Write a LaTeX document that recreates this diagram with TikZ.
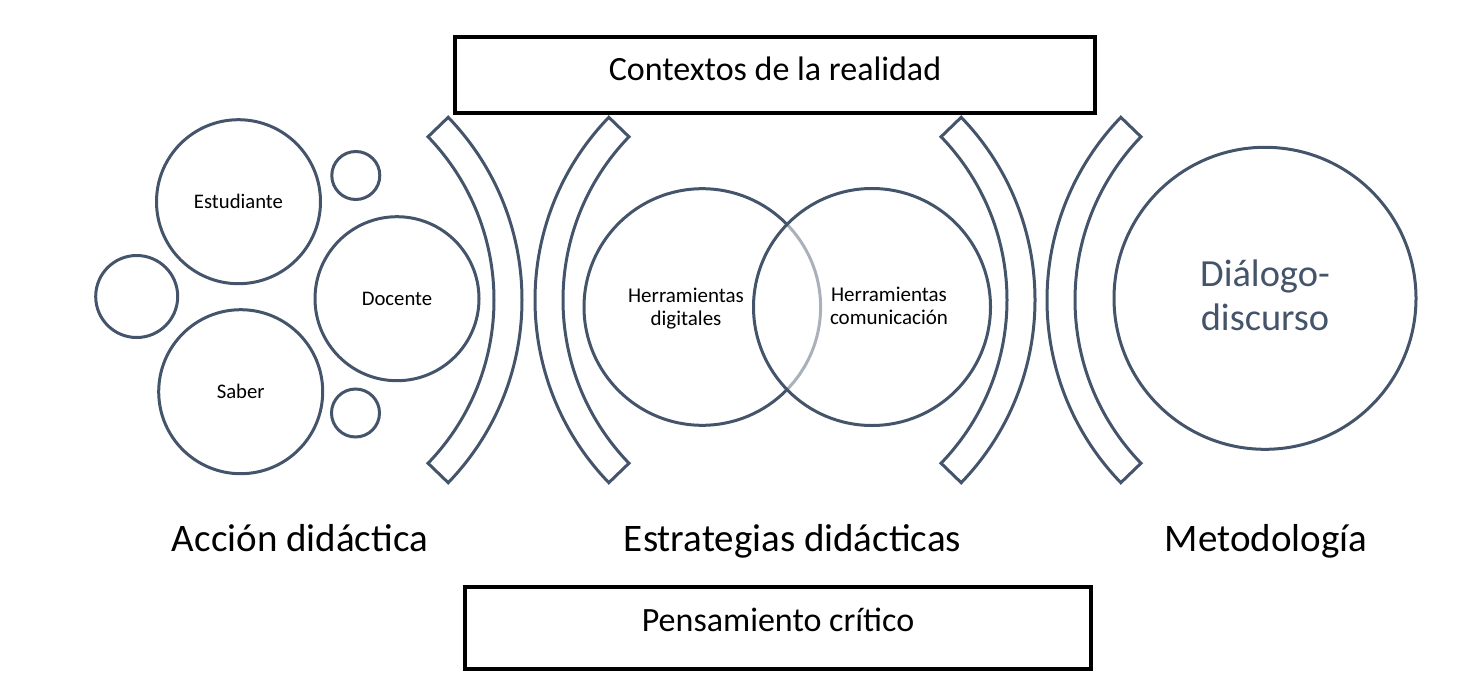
\documentclass[tikz,border=0pt]{standalone}
\usepackage{fontspec}
\setmainfont{Carlito}
\definecolor{ink}{HTML}{44546A}
\begin{document}
\begin{tikzpicture}[x=1pt,y=-1pt,
  circ/.style={circle, draw=ink, line width=3pt, inner sep=0pt, minimum size=#1, text=black, font=\fontsize{20.7}{23}\selectfont},
  vlabel/.style={align=center, inner sep=0pt, text=black, font=\fontsize{21}{23}\selectfont},
  band/.style={draw=ink, line width=3pt, line join=miter},
  bigbox/.style={rectangle, draw=black, line width=4pt, inner sep=0pt, font=\fontsize{34}{40}\selectfont},
  title/.style={anchor=base, inner sep=0pt, font=\fontsize{39}{46}\selectfont}]
\useasboundingbox (0,0) rectangle (1463,690);

% top and bottom boxes
\node[bigbox, minimum width=640, minimum height=76, text height=25pt, text depth=13pt] (ctx) at (775,75) {Contextos de la realidad};
\node[bigbox, minimum width=626, minimum height=82, text height=25pt, text depth=19pt] (pens) at (778,628) {Pensamiento crítico};

% left cluster
\node[circ=164] (est) at (238.5,201.7) {Estudiante};
\node[circ=164] (doc) at (397,298.7) {Docente};
\node[circ=164] (sab) at (240.7,391.7) {Saber};
\node[circ=48] (s1) at (355.8,175.5) {};
\node[circ=82] (s2) at (136.7,296.5) {};
\node[circ=48] (s3) at (355.5,413) {};

% brackets
\coordinate (b1) at (259,300);
\coordinate (b2) at (798,300);
\coordinate (b3) at (772,300);
\coordinate (b4) at (1310,300);
\draw[band] ([shift={(-44:235)}]b1) arc[start angle=-44,end angle=44,radius=235] -- ([shift={(44:263)}]b1) arc[start angle=44,end angle=-44,radius=263] -- cycle;
\draw[band] ([shift={(136:235)}]b2) arc[start angle=136,end angle=224,radius=235] -- ([shift={(224:263)}]b2) arc[start angle=224,end angle=136,radius=263] -- cycle;
\draw[band] ([shift={(-44:235)}]b3) arc[start angle=-44,end angle=44,radius=235] -- ([shift={(44:263)}]b3) arc[start angle=44,end angle=-44,radius=263] -- cycle;
\draw[band] ([shift={(136:235)}]b4) arc[start angle=136,end angle=224,radius=235] -- ([shift={(224:263)}]b4) arc[start angle=224,end angle=136,radius=263] -- cycle;

% Venn
\node[circ=236.6] (hd) at (702.3,307) {};
\node[circ=237, fill=white, fill opacity=0.55, draw opacity=1] (hc) at (872,307) {};
\node[vlabel] (hdt) at (686,309) {Herramientas\\digitales};
\node[vlabel] (hct) at (889,306) {Herramientas\\comunicación};

% methodology circle
\node[circ=302] (dd) at (1265,298.3) {};
\node[align=center, inner sep=0pt, text=ink, font=\fontsize{38.4}{44}\selectfont] (ddt) at (1265,295.3) {Diálogo-\\discurso};

% titles
\node[title] (t1) at (300,551.7) {Acción didáctica};
\node[title] (t2) at (792.5,551.7) {Estrategias didácticas};
\node[title] (t3) at (1266,551.7) {Metodología};
\end{tikzpicture}
\end{document}
